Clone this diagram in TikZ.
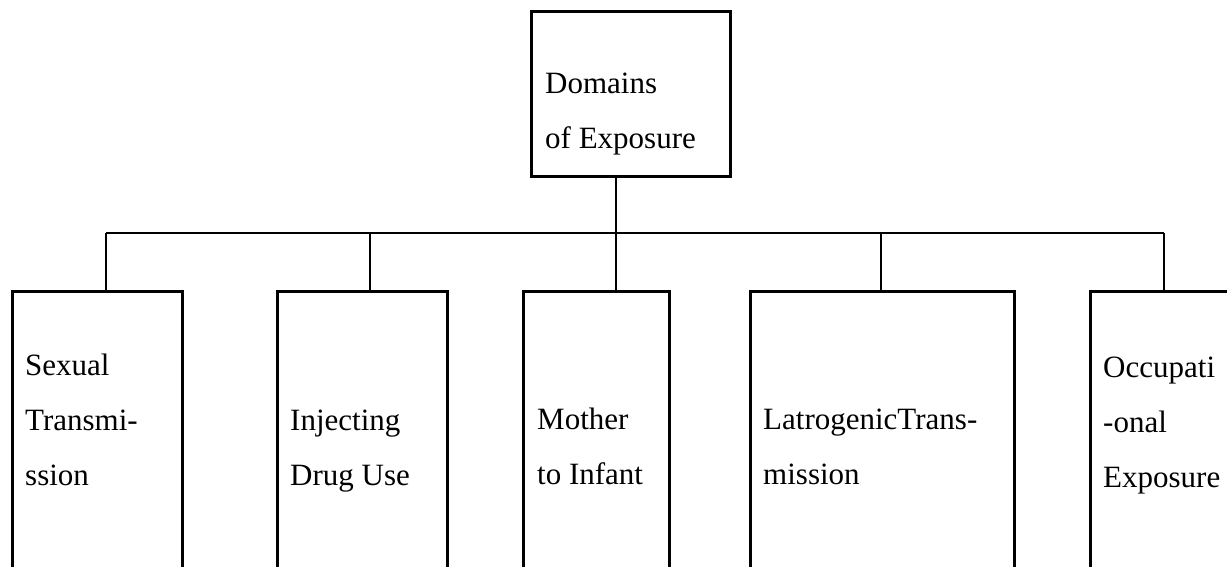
\documentclass[tikz,border=0pt]{standalone}
\usepackage{fontspec}
\setmainfont{Liberation Serif}
\begin{document}
\begin{tikzpicture}[x=1pt,y=-1pt,
  boxstyle/.style={draw,line width=2.8pt,rectangle,anchor=north west,inner sep=0pt},
  txt/.style={anchor=base west,inner sep=0pt,align=left,font=\fontsize{31}{55}\selectfont},
  link/.style={line width=2.8pt}]
\useasboundingbox (0,0) rectangle (1227,567);
\clip (0,0) rectangle (1227,567);
\fill[white] (0,0) rectangle (1227,567);
% boxes
\node[boxstyle,minimum width=199pt,minimum height=165pt] (top) at (530,10) {};
\node[boxstyle,minimum width=170pt,minimum height=320pt] (b1) at (11,290) {};
\node[boxstyle,minimum width=170pt,minimum height=320pt] (b2) at (276,290) {};
\node[boxstyle,minimum width=146pt,minimum height=320pt] (b3) at (522,290) {};
\node[boxstyle,minimum width=264pt,minimum height=320pt] (b4) at (749,290) {};
\node[boxstyle,minimum width=200pt,minimum height=320pt] (b5) at (1089,290) {};
% texts (anchored at the baseline of the last line)
\node[txt] (l0) at (545,149) {Domains\\of Exposure};
\node[txt] (l1) at (25,485) {Sexual\\Transmi-\\ssion};
\node[txt] (l2) at (290,485) {Injecting\\Drug Use};
\node[txt] (l3) at (537,484) {Mother\\to Infant};
\node[txt] (l4) at (763,484) {LatrogenicTrans-\\mission};
\node[txt] (l5) at (1103,487) {Occupati\\-onal\\Exposure};
% junctions
\coordinate (j1) at (106,233);
\coordinate (j2) at (370,233);
\coordinate (j3) at (616,233);
\coordinate (j4) at (881,233);
\coordinate (j5) at (1164,233);
% connectors
\draw[link] (j3 |- top.south) -- (j3 |- b3.north);
\draw[link] (j1) -- (j5);
\draw[link] (j1) -- (j1 |- b1.north);
\draw[link] (j2) -- (j2 |- b2.north);
\draw[link] (j4) -- (j4 |- b4.north);
\draw[link] (j5) -- (j5 |- b5.north);
\end{tikzpicture}
\end{document}
